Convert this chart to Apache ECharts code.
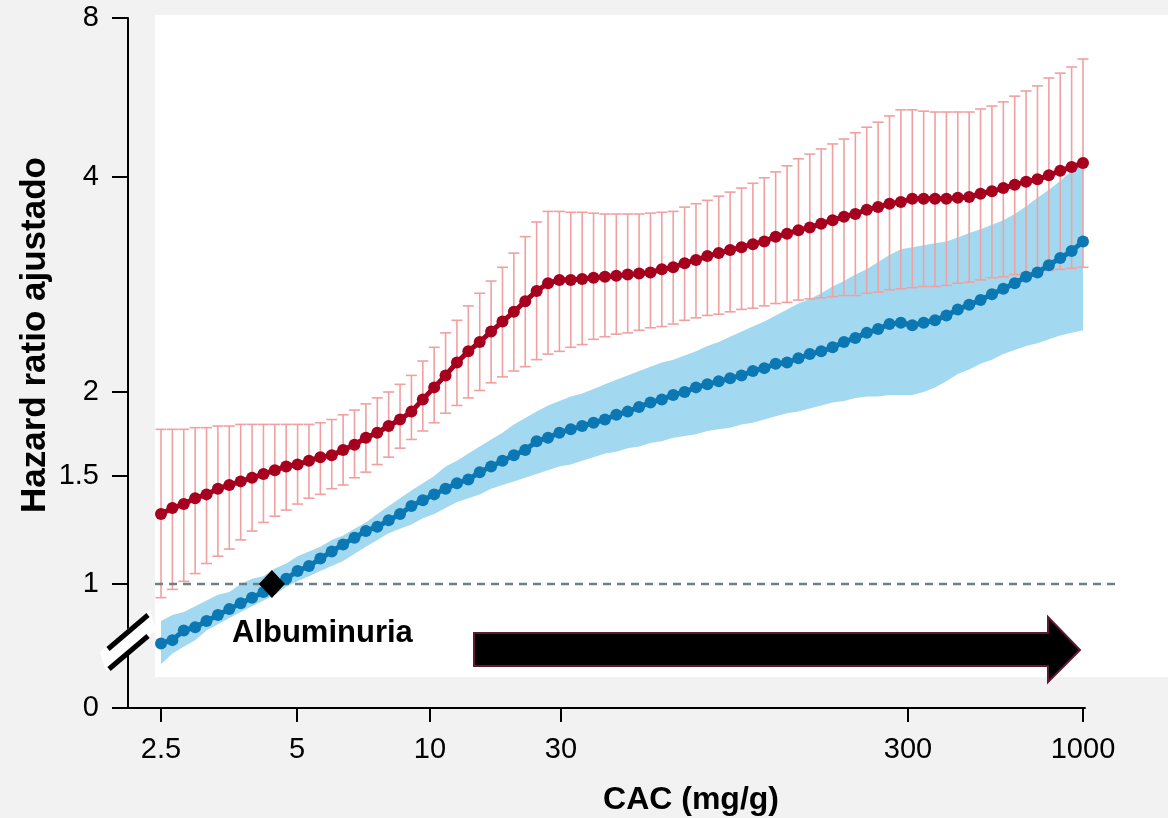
<!DOCTYPE html>
<html>
<head>
<meta charset="utf-8">
<title>Hazard ratio ajustado - CAC</title>
<script src="https://cdn.jsdelivr.net/npm/echarts@6.0.0/dist/echarts.min.js"></script>
<style>
html, body { margin: 0; padding: 0; background: #f2f2f2; }
#main { width: 1168px; height: 818px; }
</style>
</head>
<body>
<div id="main"></div>
<script>
// tick labels
var cacTicks = [2.5, 5, 10, 30, 300, 1000];
var hrTicks = [0, 1, 1.5, 2, 4, 8];

// red: HR and error bars (one value per point, points evenly spread from 2.5 to 1000)
var hrRed = [1.30,1.33,1.35,1.38,1.40,1.43,1.45,1.47,1.49,1.51,
    1.53,1.55,1.56,1.58,1.60,1.61,1.64,1.67,1.71,1.74,
    1.78,1.82,1.87,1.95,2.03,2.11,2.20,2.28,2.35,2.43,
    2.51,2.59,2.68,2.77,2.84,2.87,2.87,2.88,2.89,2.90,
    2.91,2.92,2.93,2.94,2.97,2.99,3.03,3.06,3.10,3.13,
    3.16,3.19,3.22,3.25,3.30,3.33,3.37,3.40,3.44,3.48,
    3.52,3.55,3.60,3.63,3.67,3.69,3.73,3.73,3.73,3.73,
    3.74,3.75,3.79,3.82,3.86,3.90,3.94,3.97,4.03,4.11,
    4.18,4.25];
var redUpper = [1.76,1.76,1.76,1.77,1.77,1.78,1.78,1.79,1.79,1.79,
    1.79,1.79,1.79,1.79,1.80,1.82,1.85,1.88,1.92,1.96,
    2.00,2.05,2.11,2.21,2.31,2.42,2.52,2.64,2.75,2.86,
    2.99,3.13,3.30,3.46,3.58,3.58,3.57,3.57,3.56,3.55,
    3.55,3.55,3.55,3.56,3.57,3.58,3.63,3.67,3.71,3.76,
    3.81,3.86,3.92,3.99,4.09,4.20,4.33,4.42,4.52,4.62,
    4.72,4.85,4.97,5.08,5.22,5.36,5.36,5.33,5.31,5.31,
    5.31,5.31,5.38,5.45,5.55,5.69,5.82,5.95,6.16,6.29,
    6.46,6.69];
var redLower = [0.95,0.98,1.01,1.04,1.08,1.11,1.14,1.18,1.22,1.26,
    1.29,1.32,1.35,1.38,1.40,1.43,1.45,1.49,1.52,1.56,
    1.60,1.65,1.70,1.75,1.80,1.86,1.91,1.96,2.01,2.06,
    2.10,2.14,2.17,2.22,2.26,2.28,2.31,2.33,2.37,2.39,
    2.41,2.42,2.44,2.46,2.47,2.49,2.52,2.54,2.56,2.57,
    2.59,2.61,2.62,2.64,2.66,2.67,2.69,2.70,2.71,2.72,
    2.73,2.73,2.75,2.76,2.78,2.79,2.80,2.81,2.81,2.82,
    2.84,2.85,2.87,2.89,2.90,2.92,2.94,2.94,2.96,2.97,
    2.98,2.99];

// blue: HR and confidence band
var hrBlue = [0.80,0.81,0.84,0.85,0.87,0.89,0.91,0.93,0.95,0.97,
    1.00,1.02,1.05,1.07,1.10,1.13,1.16,1.19,1.22,1.24,
    1.27,1.30,1.34,1.37,1.40,1.43,1.46,1.48,1.52,1.55,
    1.58,1.61,1.64,1.69,1.71,1.74,1.76,1.78,1.80,1.82,
    1.85,1.87,1.90,1.93,1.95,1.98,2.00,2.03,2.05,2.07,
    2.09,2.11,2.14,2.16,2.19,2.20,2.23,2.26,2.28,2.31,
    2.35,2.38,2.42,2.45,2.49,2.50,2.48,2.50,2.52,2.56,
    2.61,2.65,2.69,2.74,2.79,2.84,2.90,2.94,3.01,3.08,
    3.15,3.25];
var blueUpper = [0.87,0.89,0.90,0.92,0.94,0.96,0.97,1.00,1.02,1.03,
    1.06,1.08,1.11,1.13,1.15,1.18,1.20,1.23,1.26,1.30,
    1.34,1.38,1.42,1.46,1.50,1.55,1.58,1.62,1.66,1.70,
    1.74,1.79,1.83,1.87,1.91,1.94,1.97,1.99,2.02,2.05,
    2.08,2.11,2.14,2.17,2.20,2.22,2.25,2.28,2.32,2.35,
    2.39,2.43,2.47,2.51,2.56,2.61,2.66,2.70,2.75,2.81,
    2.86,2.92,2.97,3.04,3.11,3.17,3.19,3.21,3.23,3.25,
    3.29,3.34,3.38,3.43,3.48,3.55,3.64,3.74,3.84,3.95,
    4.11,4.27];
var blueLower = [0.74,0.77,0.79,0.81,0.84,0.86,0.88,0.90,0.92,0.94,
    0.96,0.99,1.01,1.03,1.05,1.07,1.09,1.12,1.15,1.18,
    1.21,1.23,1.25,1.28,1.30,1.33,1.36,1.38,1.40,1.43,
    1.45,1.47,1.49,1.51,1.53,1.55,1.56,1.58,1.60,1.62,
    1.63,1.65,1.66,1.68,1.69,1.71,1.72,1.73,1.75,1.76,
    1.77,1.79,1.80,1.82,1.84,1.86,1.87,1.89,1.91,1.93,
    1.94,1.96,1.97,1.97,1.98,1.98,1.98,2.00,2.03,2.07,
    2.12,2.15,2.19,2.22,2.26,2.29,2.32,2.34,2.37,2.40,
    2.42,2.44];

// albuminuria threshold marker
var refCac = 4.4;
var refHr = 1;

// the original axes are uneven: where each tick sits, in axis units
var cacTickPos = [0, 136, 269, 400, 747, 922];
var hrTickPos = [0, 124, 232, 316, 531, 690];

function logInterp(v, vals, pos, from) {
    for (var k = from; k < vals.length - 2; k++) {
        if (v <= vals[k + 1]) break;
    }
    var t = Math.log(v / vals[k]) / Math.log(vals[k + 1] / vals[k]);
    return pos[k] + t * (pos[k + 1] - pos[k]);
}
function xPos(cac) { return logInterp(cac, cacTicks, cacTickPos, 0); }
function yPos(hr) { return logInterp(hr, hrTicks, hrTickPos, 1); }

var step = cacTickPos[cacTickPos.length - 1] / (hrRed.length - 1);
function xAt(i) { return i * step; }

var redLine = hrRed.map(function (v, i) { return [xAt(i), yPos(v)]; });
var redBars = hrRed.map(function (v, i) { return [xAt(i), yPos(redLower[i]), yPos(redUpper[i])]; });
var blueLine = hrBlue.map(function (v, i) { return [xAt(i), yPos(v)]; });
var blueBand = hrBlue.map(function (v, i) { return [xAt(i), yPos(blueLower[i]), yPos(blueUpper[i])]; });

var font = "'Liberation Sans', Arial, sans-serif";

var chartDom = document.getElementById('main');
var myChart = echarts.init(chartDom);
var option;

option = {
    backgroundColor: '#f2f2f2',
    animation: false,
    grid: { left: 128, right: 83, top: 18, bottom: 110, outerBoundsMode: 'none' },
    xAxis: {
        type: 'value',
        min: -33,
        max: 924,
        splitLine: { show: false },
        axisLine: { show: true, onZero: false, lineStyle: { color: '#000', width: 2 } },
        axisTick: { show: true, customValues: cacTickPos, length: 14, lineStyle: { color: '#000', width: 2 } },
        axisLabel: {
            customValues: cacTickPos,
            margin: 27,
            color: '#000',
            fontSize: 29,
            fontFamily: font,
            formatter: function (v) {
                var k = cacTickPos.indexOf(v);
                return k < 0 ? '' : String(cacTicks[k]);
            }
        }
    },
    yAxis: {
        type: 'value',
        min: 0,
        max: 690,
        splitLine: { show: false },
        axisLine: { show: true, onZero: false, lineStyle: { color: '#000', width: 2 } },
        axisTick: { show: true, customValues: hrTickPos, length: 16, lineStyle: { color: '#000', width: 2 } },
        axisLabel: {
            customValues: hrTickPos,
            margin: 29,
            color: '#000',
            fontSize: 29,
            fontFamily: font,
            formatter: function (v) {
                var k = hrTickPos.indexOf(v);
                return k < 0 ? '' : String(hrTicks[k]);
            }
        }
    },
    series: [
        {
            // blue confidence band
            type: 'custom',
            z: 1,
            silent: true,
            data: blueBand,
            renderItem: function (params, api) {
                if (params.dataIndex !== 0) return;
                var pts = [];
                for (var i = 0; i < blueBand.length; i++) {
                    pts.push(api.coord([blueBand[i][0], blueBand[i][2]]));
                }
                for (var j = blueBand.length - 1; j >= 0; j--) {
                    pts.push(api.coord([blueBand[j][0], blueBand[j][1]]));
                }
                return { type: 'polygon', shape: { points: pts }, style: { fill: '#a3d9f0' } };
            }
        },
        {
            // red error bars
            type: 'custom',
            z: 2,
            silent: true,
            data: redBars,
            encode: { x: 0, y: [1, 2] },
            renderItem: function (params, api) {
                var x = api.value(0);
                var lo = api.coord([x, api.value(1)]);
                var hi = api.coord([x, api.value(2)]);
                var w = 5.5;
                var st = { stroke: '#f0a0a0', lineWidth: 1.6 };
                return {
                    type: 'group',
                    children: [
                        { type: 'line', shape: { x1: lo[0], y1: lo[1], x2: hi[0], y2: hi[1] }, style: st },
                        { type: 'line', shape: { x1: hi[0] - w, y1: hi[1], x2: hi[0] + w, y2: hi[1] }, style: st },
                        { type: 'line', shape: { x1: lo[0] - w, y1: lo[1], x2: lo[0] + w, y2: lo[1] }, style: st }
                    ]
                };
            }
        },
        {
            type: 'line',
            z: 4,
            data: blueLine,
            symbol: 'circle',
            symbolSize: 12,
            lineStyle: { color: '#0b78b3', width: 5 },
            itemStyle: { color: '#0b78b3', opacity: 1 }
        },
        {
            type: 'line',
            z: 5,
            data: redLine,
            symbol: 'circle',
            symbolSize: 12,
            lineStyle: { color: '#a6001e', width: 5 },
            itemStyle: { color: '#a6001e', opacity: 1 }
        },
        {
            type: 'scatter',
            z: 6,
            data: [[xPos(refCac), yPos(refHr)]],
            symbol: 'diamond',
            symbolSize: [26, 28],
            itemStyle: { color: '#000', opacity: 1 }
        }
    ]
};

option && myChart.setOption(option);

// reference line at HR = 1 and decorations
var y1 = myChart.convertToPixel({ gridIndex: 0 }, [0, yPos(1)])[1];

myChart.setOption({
    graphic: [
        { type: 'rect', z: 0, silent: true, shape: { x: 155, y: 15, width: 1013, height: 662 }, style: { fill: '#fff' } },
        { type: 'line', z: 3, silent: true, shape: { x1: 155, y1: y1, x2: 1115, y2: y1 },
          style: { stroke: '#6e7f86', lineWidth: 2.5, lineDash: [8, 6] } },
        { type: 'text', z: 10, left: 232, top: 618,
          style: { text: 'Albuminuria', fontSize: 31, fontWeight: 'bold', fontFamily: font, fill: '#000' } },
        { type: 'polygon', z: 10, silent: true,
          shape: { points: [[474, 633], [1048, 633], [1048, 617], [1080, 650], [1048, 682], [1048, 666], [474, 666]] },
          style: { fill: '#000', stroke: '#5c1a35', lineWidth: 2 } },
        // axis break mark
        { type: 'polygon', z: 10, silent: true,
          shape: { points: [[100, 652], [150, 610], [156, 630], [106, 672]] },
          style: { fill: '#fff' } },
        { type: 'line', z: 11, silent: true, shape: { x1: 108, y1: 649, x2: 148, y2: 615 },
          style: { stroke: '#000', lineWidth: 5 } },
        { type: 'line', z: 11, silent: true, shape: { x1: 109, y1: 669, x2: 148, y2: 636 },
          style: { stroke: '#000', lineWidth: 5 } },
        // axis titles
        { type: 'text', z: 10, x: 35, y: 335, rotation: Math.PI / 2,
          style: { text: 'Hazard ratio ajustado', fontSize: 35, fontWeight: 'bold', fontFamily: font, fill: '#000',
                   align: 'center', verticalAlign: 'middle' } },
        { type: 'text', z: 10, x: 691, y: 800,
          style: { text: 'CAC (mg/g)', fontSize: 32, fontWeight: 'bold', fontFamily: font, fill: '#000',
                   align: 'center', verticalAlign: 'middle' } }
    ]
});
</script>
</body>
</html>
